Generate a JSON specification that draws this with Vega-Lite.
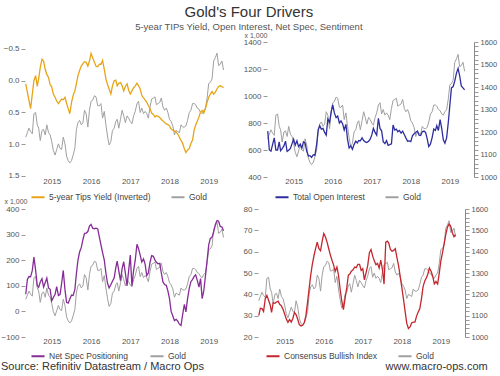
{
  "$schema": "https://vega.github.io/schema/vega-lite/v6.json",
  "background": "white",
  "padding": {"left": 0, "right": 2, "top": 4, "bottom": 0},
  "title": {"text": "Gold's Four Drivers", "subtitle": "5-year TIPs Yield, Open Interest, Net Spec, Sentiment", "fontSize": 15, "fontWeight": "normal", "subtitleFontSize": 9.5, "color": "#333333", "subtitleColor": "#555555", "anchor": "middle", "offset": 0, "subtitlePadding": 2, "font": "Liberation Sans", "subtitleFont": "Liberation Sans"},
  "config": {
    "font": "Liberation Sans",
    "view": {"stroke": null},
    "axis": {"labelFontSize": 8, "labelColor": "#555555", "tickColor": "#999999", "domain": false, "gridColor": "#e3e3e3", "labelFont": "Liberation Sans", "titleFont": "Liberation Sans"},
    "legend": {"labelFont": "Liberation Sans", "labelFontSize": 8.5, "labelColor": "#444444", "encode": {"symbols": {"update": {"strokeDash": {"signal": "datum.label === 'Gold' ? [3, 1.5] : [1, 0]"}}}}}
  },
  "datasets": {
    "d": [
      {"date": "2014-11-01", "gold": 1170, "tips": 0.05, "oi": 740, "ns": 67, "bull": 30},
      {"date": "2014-11-16", "gold": 1190, "tips": 0.18, "oi": 600, "ns": 125, "bull": 33.5},
      {"date": "2014-12-01", "gold": 1210, "tips": 0.31, "oi": 592, "ns": 136, "bull": 33.3},
      {"date": "2014-12-16", "gold": 1195, "tips": 0.44, "oi": 640, "ns": 135, "bull": 32},
      {"date": "2015-01-01", "gold": 1185, "tips": 0.21, "oi": 690, "ns": 160, "bull": 38},
      {"date": "2015-01-16", "gold": 1275, "tips": 0.0, "oi": 600, "ns": 212, "bull": 39.5},
      {"date": "2015-02-01", "gold": 1280, "tips": -0.08, "oi": 600, "ns": 160, "bull": 37.2},
      {"date": "2015-02-16", "gold": 1225, "tips": 0.09, "oi": 660, "ns": 102, "bull": 35},
      {"date": "2015-03-01", "gold": 1210, "tips": -0.03, "oi": 595, "ns": 94, "bull": 31.5},
      {"date": "2015-03-16", "gold": 1155, "tips": -0.21, "oi": 610, "ns": 115, "bull": 36},
      {"date": "2015-04-01", "gold": 1200, "tips": -0.34, "oi": 630, "ns": 128, "bull": 35.8},
      {"date": "2015-04-16", "gold": 1205, "tips": -0.31, "oi": 665, "ns": 95, "bull": 36.4},
      {"date": "2015-05-01", "gold": 1180, "tips": -0.18, "oi": 590, "ns": 112, "bull": 36.8},
      {"date": "2015-05-16", "gold": 1225, "tips": -0.10, "oi": 598, "ns": 130, "bull": 35.3},
      {"date": "2015-06-01", "gold": 1190, "tips": -0.05, "oi": 612, "ns": 92, "bull": 34.6},
      {"date": "2015-06-16", "gold": 1180, "tips": 0.06, "oi": 647, "ns": 86, "bull": 33},
      {"date": "2015-07-01", "gold": 1150, "tips": 0.10, "oi": 680, "ns": 41, "bull": 30.8},
      {"date": "2015-07-16", "gold": 1110, "tips": 0.21, "oi": 636, "ns": 54, "bull": 28.5},
      {"date": "2015-08-01", "gold": 1090, "tips": 0.26, "oi": 668, "ns": 67, "bull": 26.9},
      {"date": "2015-08-16", "gold": 1115, "tips": 0.32, "oi": 625, "ns": 97, "bull": 28.2},
      {"date": "2015-09-01", "gold": 1140, "tips": 0.36, "oi": 643, "ns": 62, "bull": 27},
      {"date": "2015-09-16", "gold": 1120, "tips": 0.32, "oi": 615, "ns": 66, "bull": 28.7},
      {"date": "2015-10-01", "gold": 1115, "tips": 0.29, "oi": 660, "ns": 110, "bull": 31.5},
      {"date": "2015-10-16", "gold": 1170, "tips": 0.30, "oi": 652, "ns": 160, "bull": 30.5},
      {"date": "2015-11-01", "gold": 1140, "tips": 0.26, "oi": 590, "ns": 85, "bull": 28.2},
      {"date": "2015-11-16", "gold": 1085, "tips": 0.35, "oi": 555, "ns": 35, "bull": 25.8},
      {"date": "2015-12-01", "gold": 1065, "tips": 0.44, "oi": 558, "ns": 32, "bull": 25.2},
      {"date": "2015-12-16", "gold": 1055, "tips": 0.52, "oi": 545, "ns": 48, "bull": 25.5},
      {"date": "2016-01-01", "gold": 1065, "tips": 0.34, "oi": 565, "ns": 64, "bull": 26.8},
      {"date": "2016-01-16", "gold": 1090, "tips": 0.23, "oi": 560, "ns": 62, "bull": 30},
      {"date": "2016-02-01", "gold": 1120, "tips": 0.16, "oi": 640, "ns": 85, "bull": 36.5},
      {"date": "2016-02-16", "gold": 1205, "tips": 0.04, "oi": 750, "ns": 150, "bull": 43},
      {"date": "2016-03-01", "gold": 1235, "tips": -0.08, "oi": 780, "ns": 200, "bull": 49},
      {"date": "2016-03-16", "gold": 1245, "tips": -0.16, "oi": 755, "ns": 232, "bull": 54},
      {"date": "2016-04-01", "gold": 1225, "tips": -0.23, "oi": 760, "ns": 250, "bull": 58.2},
      {"date": "2016-04-16", "gold": 1235, "tips": -0.27, "oi": 730, "ns": 280, "bull": 61.5},
      {"date": "2016-05-01", "gold": 1290, "tips": -0.30, "oi": 710, "ns": 305, "bull": 64.5},
      {"date": "2016-05-16", "gold": 1275, "tips": -0.29, "oi": 830, "ns": 306, "bull": 61.5},
      {"date": "2016-06-01", "gold": 1215, "tips": -0.23, "oi": 805, "ns": 312, "bull": 60.5},
      {"date": "2016-06-16", "gold": 1290, "tips": -0.31, "oi": 880, "ns": 333, "bull": 64.8},
      {"date": "2016-07-01", "gold": 1330, "tips": -0.43, "oi": 935, "ns": 340, "bull": 68.5},
      {"date": "2016-07-16", "gold": 1335, "tips": -0.36, "oi": 875, "ns": 325, "bull": 67},
      {"date": "2016-08-01", "gold": 1355, "tips": -0.29, "oi": 840, "ns": 323, "bull": 64.5},
      {"date": "2016-08-16", "gold": 1350, "tips": -0.23, "oi": 852, "ns": 325, "bull": 61.5},
      {"date": "2016-09-01", "gold": 1310, "tips": -0.22, "oi": 800, "ns": 322, "bull": 58.4},
      {"date": "2016-09-16", "gold": 1310, "tips": -0.26, "oi": 815, "ns": 290, "bull": 56},
      {"date": "2016-10-01", "gold": 1320, "tips": -0.26, "oi": 795, "ns": 260, "bull": 53.8},
      {"date": "2016-10-16", "gold": 1255, "tips": -0.32, "oi": 748, "ns": 230, "bull": 50.8},
      {"date": "2016-11-01", "gold": 1285, "tips": -0.18, "oi": 790, "ns": 200, "bull": 52.8},
      {"date": "2016-11-16", "gold": 1225, "tips": -0.03, "oi": 680, "ns": 150, "bull": 49},
      {"date": "2016-12-01", "gold": 1175, "tips": 0.06, "oi": 615, "ns": 110, "bull": 42.5},
      {"date": "2016-12-16", "gold": 1135, "tips": 0.13, "oi": 630, "ns": 92, "bull": 37},
      {"date": "2017-01-01", "gold": 1150, "tips": 0.21, "oi": 605, "ns": 104, "bull": 32.8},
      {"date": "2017-01-16", "gold": 1200, "tips": 0.08, "oi": 640, "ns": 118, "bull": 38},
      {"date": "2017-02-01", "gold": 1210, "tips": 0.0, "oi": 665, "ns": 131, "bull": 43},
      {"date": "2017-02-16", "gold": 1240, "tips": -0.01, "oi": 652, "ns": 170, "bull": 49},
      {"date": "2017-03-01", "gold": 1250, "tips": 0.08, "oi": 670, "ns": 196, "bull": 49.5},
      {"date": "2017-03-16", "gold": 1210, "tips": 0.04, "oi": 668, "ns": 158, "bull": 50.8},
      {"date": "2017-04-01", "gold": 1250, "tips": 0.03, "oi": 690, "ns": 120, "bull": 51.5},
      {"date": "2017-04-16", "gold": 1290, "tips": 0.08, "oi": 670, "ns": 168, "bull": 52.8},
      {"date": "2017-05-01", "gold": 1265, "tips": 0.16, "oi": 660, "ns": 194, "bull": 52.5},
      {"date": "2017-05-16", "gold": 1235, "tips": 0.09, "oi": 655, "ns": 150, "bull": 54},
      {"date": "2017-06-01", "gold": 1265, "tips": 0.05, "oi": 665, "ns": 100, "bull": 54},
      {"date": "2017-06-16", "gold": 1255, "tips": 0.15, "oi": 680, "ns": 160, "bull": 51.2},
      {"date": "2017-07-01", "gold": 1240, "tips": 0.21, "oi": 712, "ns": 220, "bull": 52},
      {"date": "2017-07-16", "gold": 1230, "tips": 0.16, "oi": 760, "ns": 100, "bull": 46.8},
      {"date": "2017-08-01", "gold": 1265, "tips": 0.11, "oi": 730, "ns": 160, "bull": 50.2},
      {"date": "2017-08-16", "gold": 1285, "tips": 0.08, "oi": 710, "ns": 200, "bull": 53.5},
      {"date": "2017-09-01", "gold": 1320, "tips": 0.04, "oi": 835, "ns": 262, "bull": 59.5},
      {"date": "2017-09-16", "gold": 1330, "tips": 0.08, "oi": 760, "ns": 245, "bull": 61},
      {"date": "2017-10-01", "gold": 1280, "tips": 0.13, "oi": 742, "ns": 220, "bull": 58},
      {"date": "2017-10-16", "gold": 1300, "tips": 0.23, "oi": 662, "ns": 193, "bull": 55.8},
      {"date": "2017-11-01", "gold": 1275, "tips": 0.27, "oi": 647, "ns": 205, "bull": 53.9},
      {"date": "2017-11-16", "gold": 1285, "tips": 0.30, "oi": 670, "ns": 185, "bull": 54.5},
      {"date": "2017-12-01", "gold": 1275, "tips": 0.34, "oi": 635, "ns": 140, "bull": 52.3},
      {"date": "2017-12-16", "gold": 1255, "tips": 0.39, "oi": 640, "ns": 150, "bull": 56},
      {"date": "2018-01-01", "gold": 1305, "tips": 0.44, "oi": 646, "ns": 192, "bull": 51.6},
      {"date": "2018-01-16", "gold": 1340, "tips": 0.51, "oi": 785, "ns": 218, "bull": 44.8},
      {"date": "2018-02-01", "gold": 1345, "tips": 0.53, "oi": 748, "ns": 215, "bull": 64.5},
      {"date": "2018-02-16", "gold": 1350, "tips": 0.57, "oi": 755, "ns": 200, "bull": 64.9},
      {"date": "2018-03-01", "gold": 1315, "tips": 0.55, "oi": 735, "ns": 192, "bull": 64},
      {"date": "2018-03-16", "gold": 1320, "tips": 0.56, "oi": 745, "ns": 186, "bull": 61},
      {"date": "2018-04-01", "gold": 1325, "tips": 0.58, "oi": 725, "ns": 188, "bull": 60.2},
      {"date": "2018-04-16", "gold": 1345, "tips": 0.61, "oi": 740, "ns": 150, "bull": 60.6},
      {"date": "2018-05-01", "gold": 1305, "tips": 0.63, "oi": 715, "ns": 115, "bull": 61.4},
      {"date": "2018-05-16", "gold": 1290, "tips": 0.66, "oi": 690, "ns": 105, "bull": 57.3},
      {"date": "2018-06-01", "gold": 1300, "tips": 0.68, "oi": 665, "ns": 102, "bull": 53.3},
      {"date": "2018-06-16", "gold": 1280, "tips": 0.69, "oi": 668, "ns": 80, "bull": 48.4},
      {"date": "2018-07-01", "gold": 1250, "tips": 0.71, "oi": 662, "ns": 50, "bull": 43.3},
      {"date": "2018-07-16", "gold": 1240, "tips": 0.76, "oi": 705, "ns": 0, "bull": 38},
      {"date": "2018-08-01", "gold": 1220, "tips": 0.78, "oi": 720, "ns": -18, "bull": 32},
      {"date": "2018-08-16", "gold": 1180, "tips": 0.79, "oi": 730, "ns": -36, "bull": 26.5},
      {"date": "2018-09-01", "gold": 1200, "tips": 0.81, "oi": 740, "ns": -31, "bull": 24},
      {"date": "2018-09-16", "gold": 1195, "tips": 0.84, "oi": 710, "ns": -38, "bull": 24.7},
      {"date": "2018-10-01", "gold": 1190, "tips": 0.89, "oi": 708, "ns": -50, "bull": 26.6},
      {"date": "2018-10-16", "gold": 1225, "tips": 0.94, "oi": 735, "ns": -55, "bull": 27},
      {"date": "2018-11-01", "gold": 1215, "tips": 0.99, "oi": 740, "ns": -11, "bull": 27},
      {"date": "2018-11-16", "gold": 1215, "tips": 1.07, "oi": 730, "ns": 27, "bull": 29.8},
      {"date": "2018-12-01", "gold": 1220, "tips": 1.13, "oi": 685, "ns": -2, "bull": 31.7},
      {"date": "2018-12-16", "gold": 1245, "tips": 1.09, "oi": 625, "ns": 50, "bull": 33.2},
      {"date": "2019-01-01", "gold": 1280, "tips": 1.07, "oi": 645, "ns": 90, "bull": 38},
      {"date": "2019-01-16", "gold": 1290, "tips": 0.99, "oi": 690, "ns": 116, "bull": 43.6},
      {"date": "2019-02-01", "gold": 1320, "tips": 0.93, "oi": 755, "ns": 125, "bull": 46.3},
      {"date": "2019-02-16", "gold": 1320, "tips": 0.77, "oi": 745, "ns": 137, "bull": 47.8},
      {"date": "2019-03-01", "gold": 1315, "tips": 0.70, "oi": 780, "ns": 143, "bull": 49.4},
      {"date": "2019-03-16", "gold": 1300, "tips": 0.64, "oi": 745, "ns": 122, "bull": 52.3},
      {"date": "2019-04-01", "gold": 1295, "tips": 0.57, "oi": 825, "ns": 95, "bull": 50.8},
      {"date": "2019-04-16", "gold": 1280, "tips": 0.49, "oi": 760, "ns": 128, "bull": 48.5},
      {"date": "2019-05-01", "gold": 1275, "tips": 0.47, "oi": 675, "ns": 50, "bull": 44.9},
      {"date": "2019-05-16", "gold": 1290, "tips": 0.51, "oi": 650, "ns": 80, "bull": 46},
      {"date": "2019-06-01", "gold": 1300, "tips": 0.44, "oi": 690, "ns": 140, "bull": 44.8},
      {"date": "2019-06-16", "gold": 1345, "tips": 0.34, "oi": 800, "ns": 200, "bull": 49.8},
      {"date": "2019-07-01", "gold": 1410, "tips": 0.26, "oi": 930, "ns": 260, "bull": 55.7},
      {"date": "2019-07-16", "gold": 1415, "tips": 0.21, "oi": 1060, "ns": 285, "bull": 59.3},
      {"date": "2019-08-01", "gold": 1430, "tips": 0.17, "oi": 1070, "ns": 290, "bull": 63.8},
      {"date": "2019-08-16", "gold": 1510, "tips": 0.21, "oi": 1110, "ns": 310, "bull": 68},
      {"date": "2019-09-01", "gold": 1525, "tips": 0.18, "oi": 1170, "ns": 340, "bull": 71.5},
      {"date": "2019-09-16", "gold": 1545, "tips": 0.13, "oi": 1205, "ns": 355, "bull": 73},
      {"date": "2019-10-01", "gold": 1490, "tips": 0.09, "oi": 1150, "ns": 352, "bull": 72},
      {"date": "2019-10-16", "gold": 1495, "tips": 0.08, "oi": 1075, "ns": 332, "bull": 69},
      {"date": "2019-11-01", "gold": 1510, "tips": 0.09, "oi": 1060, "ns": 330, "bull": 67},
      {"date": "2019-11-16", "gold": 1470, "tips": 0.11, "oi": 1045, "ns": 315, "bull": 68}
    ]
  },
  "resolve": {"scale": {"color": "independent"}, "legend": {"color": "independent"}},
  "spacing": -5,
  "vconcat": [
    {
      "spacing": 10,
      "resolve": {"scale": {"color": "independent"}, "legend": {"color": "independent"}},
      "hconcat": [
        {
          "width": 208, "height": 135,
          "data": {"name": "d"},
          "resolve": {"scale": {"y": "independent"}},
          "layer": [
            {
              "mark": {"type": "line", "strokeWidth": 1, "color": "#a0a0a0"},
              "encoding": {
                "x": {"field": "date", "type": "temporal", "scale": {"domain": [{"year": 2014, "month": 10, "date": 25}, {"year": 2020, "month": 2, "date": 12}]}, "axis": {"values": [{"year": 2015, "month": 7, "date": 1}, {"year": 2016, "month": 7, "date": 1}, {"year": 2017, "month": 7, "date": 1}, {"year": 2018, "month": 7, "date": 1}, {"year": 2019, "month": 7, "date": 1}], "format": "%Y", "ticks": false, "grid": false, "labelFlush": false, "labelPadding": 0, "title": null}},
                "y": {"field": "gold", "type": "quantitative", "scale": {"domain": [992, 1595], "nice": false, "zero": false}, "axis": null},
                "color": {"datum": "Gold"}
              }
            },
            {
              "mark": {"type": "line", "strokeWidth": 1.3},
              "encoding": {
                "x": {"field": "date", "type": "temporal"},
                "y": {"field": "tips", "type": "quantitative", "scale": {"domain": [-0.61, 1.516], "reverse": true, "nice": false, "zero": false}, "axis": {"orient": "left", "values": [-0.5, 0, 0.5, 1, 1.5], "format": ".1f", "tickSize": 4, "labelPadding": 2, "title": null}},
                "color": {"datum": "5-year Tips Yield (Inverted)", "scale": {"domain": ["5-year Tips Yield (Inverted)", "Gold"], "range": ["#e8a419", "#a0a0a0"]}, "legend": {"orient": "none", "legendX": 5, "legendY": 147, "direction": "horizontal", "title": null, "symbolType": "stroke", "symbolSize": 170, "symbolStrokeWidth": 2, "columnPadding": 16, "labelOffset": 3}}
              }
            }
          ]
        },
        {
          "width": 207, "height": 135,
          "data": {"name": "d"},
          "resolve": {"scale": {"y": "independent"}},
          "layer": [
            {
              "mark": {"type": "line", "strokeWidth": 1, "color": "#a0a0a0"},
              "encoding": {
                "x": {"field": "date", "type": "temporal", "scale": {"domain": [{"year": 2014, "month": 10, "date": 25}, {"year": 2020, "month": 2, "date": 12}]}, "axis": {"values": [{"year": 2015, "month": 7, "date": 1}, {"year": 2016, "month": 7, "date": 1}, {"year": 2017, "month": 7, "date": 1}, {"year": 2018, "month": 7, "date": 1}, {"year": 2019, "month": 7, "date": 1}], "format": "%Y", "ticks": false, "grid": false, "labelFlush": false, "labelPadding": 0, "title": null}},
                "y": {"field": "gold", "type": "quantitative", "scale": {"domain": [1000, 1600], "nice": false, "zero": false}, "axis": {"orient": "right", "values": [1000, 1020, 1040, 1060, 1080, 1100, 1120, 1140, 1160, 1180, 1200, 1220, 1240, 1260, 1280, 1300, 1320, 1340, 1360, 1380, 1400, 1420, 1440, 1460, 1480, 1500, 1520, 1540, 1560, 1580, 1600], "labelExpr": "datum.value % 100 === 0 ? datum.label : ''", "labelOverlap": false, "format": "d", "grid": false, "domain": true, "domainColor": "#888888", "tickSize": 4, "labelFontSize": 7.5, "labelPadding": 2, "title": null, "encode": {"ticks": {"update": {"x2": {"signal": "datum.value % 100 === 0 ? 4 : 2"}}}}}},
                "color": {"datum": "Gold"}
              }
            },
            {
              "mark": {"type": "line", "strokeWidth": 1.3},
              "encoding": {
                "x": {"field": "date", "type": "temporal"},
                "y": {"field": "oi", "type": "quantitative", "scale": {"domain": [400, 1400], "nice": false, "zero": false}, "axis": {"orient": "left", "values": [400, 600, 800, 1000, 1200, 1400], "format": "d", "tickSize": 4, "labelPadding": 2, "title": "x 1,000", "titleAngle": 0, "titleFontSize": 7, "titleFontWeight": "normal", "titleColor": "#555555", "titleAlign": "left", "titleBaseline": "bottom", "titleX": -23, "titleY": -4}},
                "color": {"datum": "Total Open Interest", "scale": {"domain": ["Total Open Interest", "Gold"], "range": ["#2e2e9e", "#a0a0a0"]}, "legend": {"orient": "none", "legendX": 7, "legendY": 147, "direction": "horizontal", "title": null, "symbolType": "stroke", "symbolSize": 170, "symbolStrokeWidth": 2, "columnPadding": 16, "labelOffset": 3}}
              }
            }
          ]
        }
      ]
    },
    {
      "spacing": 10,
      "resolve": {"scale": {"color": "independent"}, "legend": {"color": "independent"}},
      "hconcat": [
        {
          "width": 208, "height": 128,
          "data": {"name": "d"},
          "title": {"text": "Source: Refinitiv Datastream / Macro Ops", "orient": "bottom", "anchor": "start", "fontSize": 11, "fontWeight": "normal", "color": "#333333", "offset": 0},
          "resolve": {"scale": {"y": "independent"}},
          "layer": [
            {
              "mark": {"type": "line", "strokeWidth": 1, "color": "#a0a0a0"},
              "encoding": {
                "x": {"field": "date", "type": "temporal", "scale": {"domain": [{"year": 2014, "month": 10, "date": 25}, {"year": 2020, "month": 2, "date": 12}]}, "axis": {"values": [{"year": 2015, "month": 7, "date": 1}, {"year": 2016, "month": 7, "date": 1}, {"year": 2017, "month": 7, "date": 1}, {"year": 2018, "month": 7, "date": 1}, {"year": 2019, "month": 7, "date": 1}], "format": "%Y", "ticks": false, "grid": false, "labelFlush": false, "labelPadding": 0, "title": null}},
                "y": {"field": "gold", "type": "quantitative", "scale": {"domain": [987, 1608], "nice": false, "zero": false}, "axis": null},
                "color": {"datum": "Gold"}
              }
            },
            {
              "mark": {"type": "line", "strokeWidth": 1.3},
              "encoding": {
                "x": {"field": "date", "type": "temporal"},
                "y": {"field": "ns", "type": "quantitative", "scale": {"domain": [-100, 400], "nice": false, "zero": false}, "axis": {"orient": "left", "values": [-100, 0, 100, 200, 300, 400], "format": "d", "tickSize": 4, "labelPadding": 2, "title": "x 1,000", "titleAngle": 0, "titleFontSize": 7, "titleFontWeight": "normal", "titleColor": "#555555", "titleAlign": "left", "titleBaseline": "bottom", "titleX": -21, "titleY": -5}},
                "color": {"datum": "Net Spec Positioning", "scale": {"domain": ["Net Spec Positioning", "Gold"], "range": ["#862c97", "#a0a0a0"]}, "legend": {"orient": "none", "legendX": 5, "legendY": 139, "direction": "horizontal", "title": null, "symbolType": "stroke", "symbolSize": 170, "symbolStrokeWidth": 2, "columnPadding": 18, "labelOffset": 3}}
              }
            }
          ]
        },
        {
          "width": 207, "height": 128,
          "data": {"name": "d"},
          "title": {"text": "www.macro-ops.com", "orient": "bottom", "anchor": "end", "fontSize": 11, "fontWeight": "normal", "color": "#333333", "offset": 0},
          "resolve": {"scale": {"y": "independent"}},
          "layer": [
            {
              "mark": {"type": "line", "strokeWidth": 1, "color": "#a0a0a0"},
              "encoding": {
                "x": {"field": "date", "type": "temporal", "scale": {"domain": [{"year": 2014, "month": 10, "date": 25}, {"year": 2020, "month": 2, "date": 12}]}, "axis": {"values": [{"year": 2015, "month": 7, "date": 1}, {"year": 2016, "month": 7, "date": 1}, {"year": 2017, "month": 7, "date": 1}, {"year": 2018, "month": 7, "date": 1}, {"year": 2019, "month": 7, "date": 1}], "format": "%Y", "ticks": false, "grid": false, "labelFlush": false, "labelPadding": 0, "title": null}},
                "y": {"field": "gold", "type": "quantitative", "scale": {"domain": [1000, 1600], "nice": false, "zero": false}, "axis": {"orient": "right", "values": [1000, 1020, 1040, 1060, 1080, 1100, 1120, 1140, 1160, 1180, 1200, 1220, 1240, 1260, 1280, 1300, 1320, 1340, 1360, 1380, 1400, 1420, 1440, 1460, 1480, 1500, 1520, 1540, 1560, 1580, 1600], "labelExpr": "datum.value % 100 === 0 ? datum.label : ''", "labelOverlap": false, "format": "d", "grid": false, "domain": true, "domainColor": "#888888", "tickSize": 4, "labelFontSize": 7.5, "labelPadding": 2, "title": null, "encode": {"ticks": {"update": {"x2": {"signal": "datum.value % 100 === 0 ? 4 : 2"}}}}}},
                "color": {"datum": "Gold"}
              }
            },
            {
              "mark": {"type": "line", "strokeWidth": 1.3},
              "encoding": {
                "x": {"field": "date", "type": "temporal"},
                "y": {"field": "bull", "type": "quantitative", "scale": {"domain": [20, 80], "nice": false, "zero": false}, "axis": {"orient": "left", "values": [20, 30, 40, 50, 60, 70, 80], "tickSize": 4, "labelPadding": 2, "title": null}},
                "color": {"datum": "Consensus Bullish Index", "scale": {"domain": ["Consensus Bullish Index", "Gold"], "range": ["#c4262e", "#a0a0a0"]}, "legend": {"orient": "none", "legendX": 7, "legendY": 139, "direction": "horizontal", "title": null, "symbolType": "stroke", "symbolSize": 170, "symbolStrokeWidth": 2, "columnPadding": 16, "labelOffset": 3}}
              }
            }
          ]
        }
      ]
    }
  ]
}
